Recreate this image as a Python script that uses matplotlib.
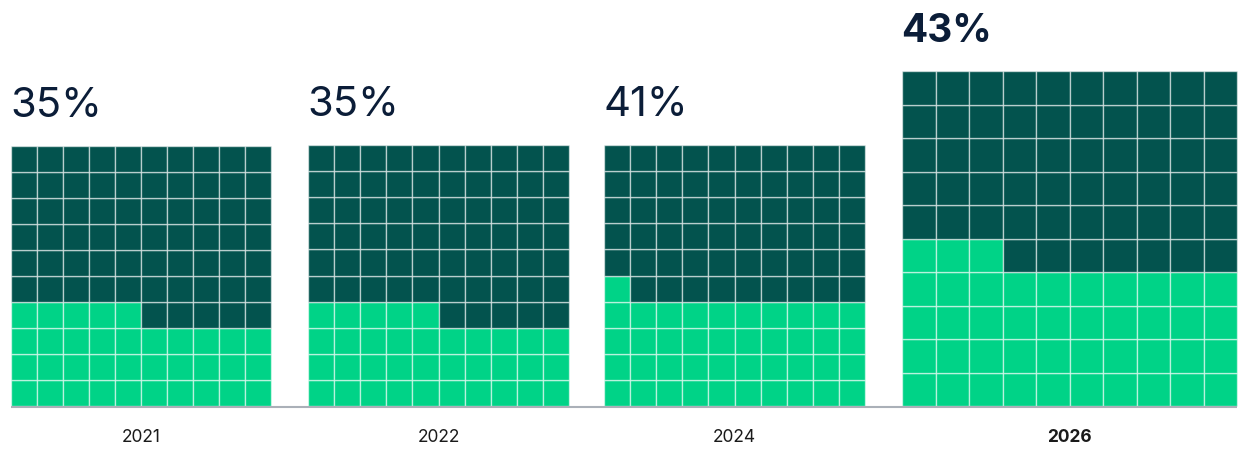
import matplotlib.pyplot as plt
from matplotlib.patches import Rectangle

# --- data ---
years = ["2021", "2022", "2024", "2026"]
shares = [35, 35, 41, 43]
highlight = [False, False, False, True]

# --- layout (pixels) ---
W, H = 1239, 450
lefts = [11, 308, 604, 902]
cells = [26.0, 26.1, 26.1, 33.5]
base_y = 406

dark = "#03534e"
light = "#00d387"
navy = "#0b1d38"

fig = plt.figure(figsize=(W / 100, H / 100), dpi=100)
ax = fig.add_axes([0, 0, 1, 1])
ax.set_xlim(0, W)
ax.set_ylim(H, 0)
ax.axis("off")

for year, pct, hl, x0, c in zip(years, shares, highlight, lefts, cells):
    for i in range(100):
        row, col = divmod(i, 10)
        color = light if i < pct else dark
        x = x0 + col * c
        y = base_y - (row + 1) * c
        ax.add_patch(Rectangle((x, y), c, c, facecolor=color,
                               edgecolor=(1, 1, 1, 0.55), linewidth=1.0))
    top = base_y - 10 * c
    weight = "bold" if hl else "normal"
    ax.text(x0 - 1, top - 29, f"{pct}%", fontsize=30 if not hl else 28,
            fontweight=weight, color=navy, ha="left", va="baseline",
            family="Inter")
    ax.text(x0 + 5 * c, 437, year, fontsize=12.5, fontweight=weight,
            color="#1a1a1a", ha="center", va="center", family="Inter")

ax.plot([lefts[0], lefts[-1] + 10 * cells[-1]], [base_y + 0.5, base_y + 0.5],
        color="#aab0b8", linewidth=1.5, solid_capstyle="butt")

fig.savefig("out.png", dpi=100)
